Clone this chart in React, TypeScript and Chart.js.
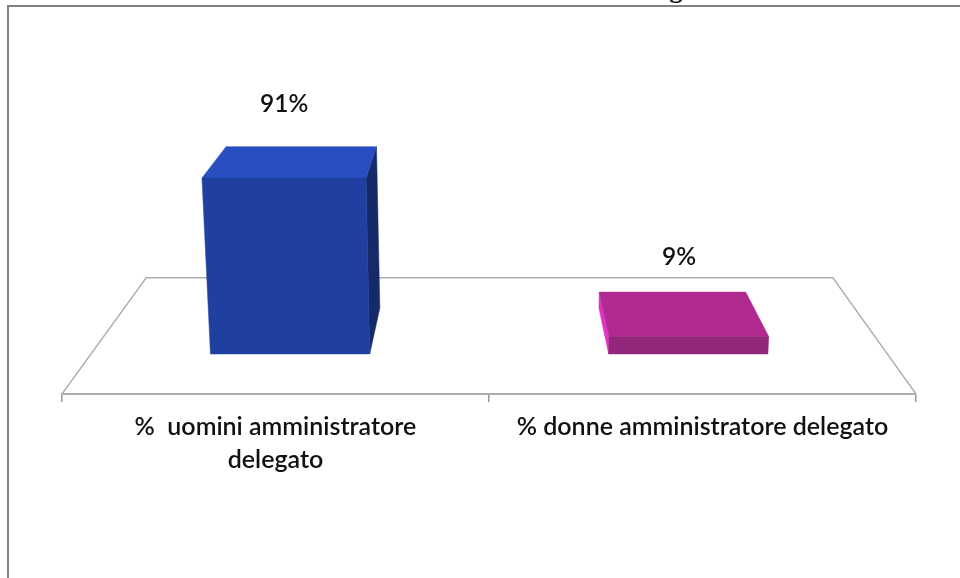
import React, { useEffect, useRef } from "react";
import { Chart, registerables } from "chart.js";

Chart.register(...registerables);

const categories: string[][] = [["%  uomini amministratore", "delegato"], ["% donne amministratore delegato"]];
const shareValues: number[] = [91, 9];
const frontColors: string[] = ["#1F40A0", "#92267A"];
const topColors: string[] = ["#284EC0", "#B02A90"];
const sideColors: string[] = ["#162968", "#E233C4"];
const clippedTitleText = "g";

const FONT = "Lato";
const VP = { x: 491.6, y: -199 };
const S_FRONT = 0.9325;
const S_BACK = 0.855;
const S_FLOOR_BACK = 0.804;
const S_LABEL = 0.9;
const K_TILT = 0.00016;

function project(x: number, y: number, base: number, s: number) {
  const tilt = 1 + K_TILT * (base - y);
  return { x: VP.x + (x - VP.x) * s * tilt, y: VP.y + (y - VP.y) * s };
}

function poly(ctx: CanvasRenderingContext2D, pts: { x: number; y: number }[], color: string) {
  ctx.beginPath();
  pts.forEach((p, i) => (i ? ctx.lineTo(p.x, p.y) : ctx.moveTo(p.x, p.y)));
  ctx.closePath();
  ctx.fillStyle = color;
  ctx.fill();
  ctx.strokeStyle = color;
  ctx.lineWidth = 0.5;
  ctx.stroke();
}

const frame3d = {
  id: "frame3d",
  beforeDraw(chart: any) {
    const { ctx, width, height } = chart;
    ctx.save();
    ctx.strokeStyle = "#808080";
    ctx.lineWidth = 2;
    ctx.beginPath();
    ctx.moveTo(8, height);
    ctx.lineTo(8, 6);
    ctx.lineTo(width, 6);
    ctx.stroke();
    ctx.font = "bold 27px 'Liberation Serif'";
    ctx.fillStyle = "#111111";
    ctx.textAlign = "center";
    ctx.textBaseline = "alphabetic";
    ctx.fillText(clippedTitleText, 676, -3);
    ctx.restore();
  },
  beforeDatasetsDraw(chart: any) {
    const { ctx, chartArea: a } = chart;
    const bl = { x: a.left, y: a.bottom };
    const br = { x: a.right, y: a.bottom };
    const tl = project(a.left, a.bottom, a.bottom, S_FLOOR_BACK);
    const tr = project(a.right, a.bottom, a.bottom, S_FLOOR_BACK);
    ctx.save();
    ctx.strokeStyle = "#ADADAD";
    ctx.lineWidth = 1.3;
    ctx.beginPath();
    ctx.moveTo(bl.x, bl.y);
    ctx.lineTo(tl.x, tl.y);
    ctx.lineTo(tr.x, tr.y);
    ctx.lineTo(br.x, br.y);
    ctx.stroke();
    ctx.restore();
  },
  beforeDatasetDraw(chart: any, args: any) {
    const { ctx } = chart;
    const meta = chart.getDatasetMeta(args.index);
    ctx.save();
    meta.data.forEach((bar: any, i: number) => {
      const L = bar.x - bar.width / 2;
      const R = bar.x + bar.width / 2;
      const top = bar.y;
      const base = bar.base;
      const p = (x: number, y: number, s: number) => project(x, y, base, s);
      const inner = bar.x < VP.x ? R : L;
      poly(ctx, [p(inner, top, S_FRONT), p(inner, top, S_BACK), p(inner, base, S_BACK), p(inner, base, S_FRONT)], sideColors[i]);
      poly(ctx, [p(L, top, S_FRONT), p(L, top, S_BACK), p(R, top, S_BACK), p(R, top, S_FRONT)], topColors[i]);
      poly(ctx, [p(L, top, S_FRONT), p(R, top, S_FRONT), p(R, base, S_FRONT), p(L, base, S_FRONT)], bar.options.backgroundColor);
    });
    ctx.restore();
    return false;
  },
  afterDatasetsDraw(chart: any) {
    const { ctx } = chart;
    const meta = chart.getDatasetMeta(0);
    ctx.save();
    ctx.font = `600 24.5px ${FONT}`;
    ctx.fillStyle = "#111111";
    ctx.textAlign = "center";
    ctx.textBaseline = "middle";
    meta.data.forEach((bar: any, i: number) => {
      const pos = project(bar.x, bar.y - 67.6, bar.base, S_LABEL);
      ctx.fillText(`${shareValues[i]}%`, pos.x - 5, pos.y);
    });
    ctx.restore();
  },
};

export default function App() {
  const ref = useRef<HTMLCanvasElement | null>(null);
  useEffect(() => {
    document.body.style.margin = "0";
    document.body.style.background = "#ffffff";
    const chart = new Chart(ref.current as HTMLCanvasElement, {
      type: "bar",
      data: {
        labels: categories,
        datasets: [
          {
            label: "Quota",
            data: shareValues,
            backgroundColor: frontColors,
            barPercentage: 0.4,
            categoryPercentage: 1,
          },
        ],
      },
      options: {
        animation: false,
        responsive: false,
        layout: { padding: { left: 62, right: 44, top: 186.6, bottom: 0 } },
        plugins: { legend: { display: false }, title: { display: false }, tooltip: { enabled: false } },
        scales: {
          x: {
            afterFit(scale: any) {
              scale.height = 184;
            },
            grid: { drawOnChartArea: false, drawTicks: true, tickLength: 8, color: "#999999", lineWidth: 1.5 },
            border: { color: "#ADADAD", width: 2 },
            ticks: {
              font: { family: FONT, size: 25, weight: "600", lineHeight: 1.32 },
              color: "#111111",
              padding: 8,
              maxRotation: 0,
              autoSkip: false,
            },
          },
          y: { display: false, min: 0, max: 100 },
        },
      },
      plugins: [frame3d],
    } as any);
    return () => chart.destroy();
  }, []);
  return (
    <div style={{ position: "absolute", left: 0, top: 0, width: 960, height: 578 }}>
      <canvas ref={ref} width={960} height={578} style={{ display: "block" }} />
    </div>
  );
}
